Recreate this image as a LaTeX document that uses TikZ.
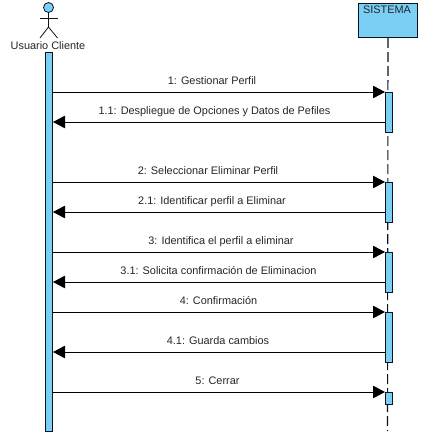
\documentclass[tikz,border=0pt]{standalone}
\usepackage{xcolor}
\usepackage{fontspec}
\setmainfont{Liberation Sans}
\usepackage{tikz}
\usetikzlibrary{arrows.meta, positioning, calc}
\definecolor{myblue}{RGB}{122,207,245}
\definecolor{mydark}{RGB}{10,20,30}
\tikzset{
  lifebox/.style={rectangle, draw=mydark, fill=myblue, line width=1pt, inner sep=0pt, anchor=north west},
  actorline/.style={draw=mydark, line width=0.8pt},
  lifeline/.style={draw=mydark, line width=1.1pt, dash pattern=on 10pt off 4pt},
  msgarrow/.style={-{Triangle[length=12pt, width=12.5pt]}, line width=0.9pt, color=black},
  msglabel/.style={font=\fontsize{10.9}{12}\selectfont, color=black!85, inner sep=0pt, anchor=base}
}
\begin{document}
\begin{tikzpicture}[x=1pt, y=-1pt]
  \useasboundingbox (0,0) rectangle (422,436);

  % Actor
  \node[circle, draw=mydark, fill=myblue, line width=0.8pt, minimum size=10pt, inner sep=0pt] (head) at (48.5,7.5) {};
  \coordinate (hip) at (48.5,27);
  \coordinate (armL) at (40,18);
  \coordinate (armR) at (57.5,18);
  \coordinate (footL) at (40,38);
  \coordinate (footR) at (57.5,38);
  \draw[actorline] (head) -- (hip);
  \draw[actorline] (armL) -- (armR);
  \draw[actorline] (footL) -- (hip) -- (footR);
  \node[msglabel] (clientlabel) at (48,49) {Usuario Cliente};

  % Lifelines and bars
  \node[lifebox, minimum width=59pt, minimum height=34pt] (sistema) at (358,3) {};
  \node[msglabel] (sistemalabel) at (387,14) {SISTEMA};
  \coordinate (lifeend) at (387.5,431);
  \draw[lifeline] (sistema.south) -- (lifeend);
  \node[lifebox, minimum width=7pt, minimum height=379pt] (usuario) at (45,52) {};

  % Activation bars on SISTEMA
  \node[lifebox, minimum width=7pt, minimum height=40pt] (act1) at (385,92) {};
  \node[lifebox, minimum width=7pt, minimum height=40pt] (act2) at (385,182) {};
  \node[lifebox, minimum width=7pt, minimum height=40pt] (act3) at (385,252) {};
  \node[lifebox, minimum width=7pt, minimum height=50pt] (act4) at (385,312) {};
  \node[lifebox, minimum width=7pt, minimum height=12pt] (act5) at (385,392) {};

  % Calls
  \draw[msgarrow] (usuario.east |- act1.north) -- (act1.north west);
  \draw[msgarrow] (usuario.east |- act2.north) -- (act2.north west);
  \draw[msgarrow] (usuario.east |- act3.north) -- (act3.north west);
  \draw[msgarrow] (usuario.east |- act4.north) -- (act4.north west);
  \draw[msgarrow] (usuario.east |- act5.north) -- (act5.north west);

  % Returns
  \coordinate (ret1) at (385,122);
  \coordinate (ret2) at (385,212);
  \coordinate (ret3) at (385,282);
  \coordinate (ret4) at (385,352);
  \draw[msgarrow] (ret1) -- (usuario.east |- ret1);
  \draw[msgarrow] (ret2) -- (usuario.east |- ret2);
  \draw[msgarrow] (ret3) -- (usuario.east |- ret3);
  \draw[msgarrow] (ret4) -- (usuario.east |- ret4);

  % Message labels
  \node[msglabel] (msg1) at (212,84.5) {1: Gestionar Perfil};
  \node[msglabel] (msg11) at (214.5,114.5) {1.1: Despliegue de Opciones y Datos de Pefiles};
  \node[msglabel] (msg2) at (208,174) {2: Seleccionar Eliminar Perfil};
  \node[msglabel] (msg21) at (212,204) {2.1: Identificar perfil a Eliminar};
  \node[msglabel] (msg3) at (221,244) {3: Identifica el perfil a eliminar};
  \node[msglabel] (msg31) at (218.5,274) {3.1: Solicita confirmación de Eliminacion};
  \node[msglabel] (msg4) at (218.5,304) {4: Confirmación};
  \node[msglabel] (msg41) at (218,344) {4.1: Guarda cambios};
  \node[msglabel] (msg5) at (217.5,384) {5: Cerrar};
\end{tikzpicture}
\end{document}
